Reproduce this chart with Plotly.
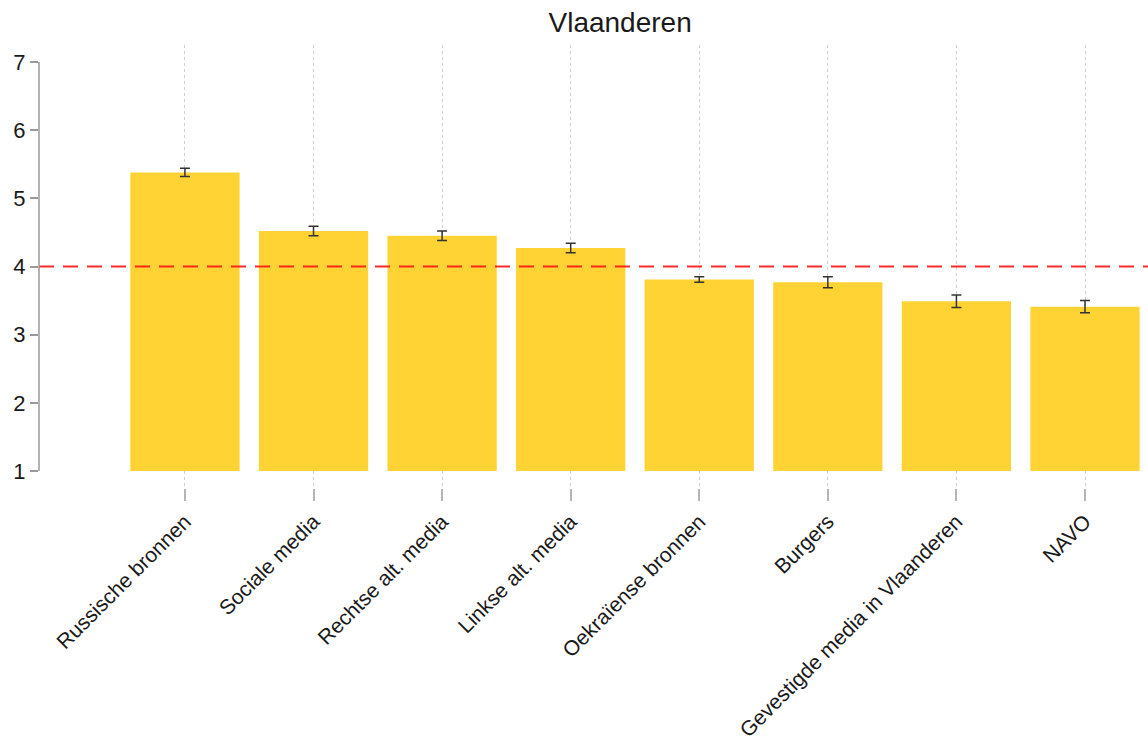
import plotly.graph_objects as go

# Data
categories = [
    "Russische bronnen",
    "Sociale media",
    "Rechtse alt. media",
    "Linkse alt. media",
    "Oekraïense bronnen",
    "Burgers",
    "Gevestigde media in Vlaanderen",
    "NAVO",
]
means = [5.38, 4.52, 4.45, 4.27, 3.81, 3.77, 3.49, 3.41]
errors = [0.06, 0.07, 0.07, 0.07, 0.04, 0.08, 0.09, 0.09]
reference_value = 4
y_ticks = [1, 2, 3, 4, 5, 6, 7]
title_text = "Vlaanderen"

# Colors
BAR_COLOR = "#FFD333"
AXIS_GREY = "#9a9a9a"
TEXT_COLOR = "#1a1a1a"

base_value = 1

fig = go.Figure()

# Bars start at 1 (bottom of the scale)
fig.add_trace(
    go.Bar(
        x=categories,
        y=[m - base_value for m in means],
        base=base_value,
        width=0.85,
        marker=dict(color=BAR_COLOR, line=dict(width=0)),
        hoverinfo="skip",
    )
)

# Error bars drawn at the bar tops
fig.add_trace(
    go.Scatter(
        x=categories,
        y=means,
        mode="markers",
        marker=dict(size=1, opacity=0),
        error_y=dict(
            type="data",
            array=errors,
            color="#333333",
            thickness=1.5,
            width=5,
        ),
        hovertemplate="%{x}: %{y}<extra></extra>",
    )
)

# Reference line
fig.add_shape(
    type="line",
    xref="paper",
    x0=0,
    x1=1,
    yref="y",
    y0=reference_value,
    y1=reference_value,
    line=dict(color="rgba(255,20,20,0.9)", width=2.2, dash="15px,9px"),
    layer="above",
)

# Y axis line from first to last tick only
fig.add_shape(
    type="line",
    xref="paper",
    x0=0,
    x1=0,
    yref="y",
    y0=y_ticks[0],
    y1=y_ticks[-1],
    line=dict(color=AXIS_GREY, width=1.5),
    layer="above",
)

fig.update_layout(
    width=1148,
    height=746,
    template="none",
    showlegend=False,
    plot_bgcolor="white",
    paper_bgcolor="white",
    margin=dict(l=39, r=0, t=45, b=258, pad=0, autoexpand=False),
    font=dict(family="Liberation Sans, Arial, sans-serif", color=TEXT_COLOR, size=21),
    title=dict(
        text=title_text,
        x=0.524,
        xref="paper",
        xanchor="center",
        y=0.97,
        yanchor="middle",
        font=dict(size=28, color=TEXT_COLOR),
    ),
)

fig.update_xaxes(
    range=[-1.135, 7.49],
    automargin=False,
    showline=False,
    zeroline=False,
    showgrid=True,
    gridcolor="#d0d0d0",
    griddash="dot",
    gridwidth=1,
    ticks="outside",
    ticklen=12,
    tickwidth=1.5,
    tickcolor="#b5b5b5",
    tickangle=-45,
    tickfont=dict(size=21, color=TEXT_COLOR),
)

fig.update_yaxes(
    range=[0.75, 7.25],
    automargin=False,
    tickmode="array",
    tickvals=y_ticks,
    ticktext=[str(t) for t in y_ticks],
    showline=False,
    showgrid=False,
    zeroline=False,
    ticks="outside",
    ticklen=8,
    tickwidth=1.5,
    tickcolor=AXIS_GREY,
    tickfont=dict(size=22, color=TEXT_COLOR),
)

# remove the default page margin so the figure sits at the window corner
fig.write_html(
    "out.html",
    config={"displayModeBar": False},
    post_script="document.body.style.margin='0';",
)
